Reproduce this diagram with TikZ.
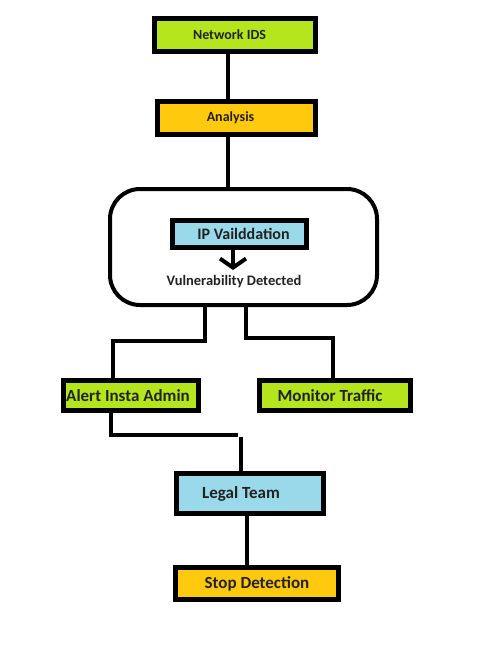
\documentclass[tikz,border=0pt]{standalone}
\usepackage{fontspec}
\setmainfont{Carlito}
\usetikzlibrary{arrows.meta}
\definecolor{boxgreen}{HTML}{B5E61D}
\definecolor{boxorange}{HTML}{FFC90E}
\definecolor{boxblue}{HTML}{99D9EA}
\definecolor{txt}{HTML}{222222}
\newcommand{\shiftby}[1]{\hspace*{#1}}
\tikzset{
  box/.style={draw=black, line width=5pt, inner sep=0pt, text=txt, font=\bfseries},
  conn/.style={draw=black, line width=4pt},
}
\begin{document}
\begin{tikzpicture}[x=1pt,y=-1pt]
\useasboundingbox[fill=white] (0,0) rectangle (496,645);
\node[box, fill=boxgreen, minimum width=161pt, minimum height=33pt, font=\bfseries\fontsize{14}{16}\selectfont] (nids) at (234.5,35) {\shiftby{-10pt}Network IDS};
\node[box, fill=boxorange, minimum width=158pt, minimum height=33pt, font=\bfseries\fontsize{14}{16}\selectfont] (ana) at (236.5,118) {\shiftby{-12pt}Analysis};
\node[draw=black, line width=4pt, rounded corners=30pt, minimum width=267pt, minimum height=116pt, inner sep=0pt] (rbox) at (243.5,247) {};
\node[box, fill=boxblue, minimum width=134pt, minimum height=27pt, font=\bfseries\fontsize{16}{18}\selectfont] (ip) at (239.5,234) {\shiftby{8pt}IP Vailddation};
\node[text=txt, font=\bfseries\fontsize{14.5}{16}\selectfont, inner sep=0pt] (vd) at (234,282) {Vulnerability Detected};
\coordinate (arr) at (233,270);
\node[box, fill=boxgreen, minimum width=135pt, minimum height=30pt, font=\bfseries\fontsize{17}{19}\selectfont] (alert) at (131,395.5) {\shiftby{-6pt}Alert Insta Admin};
\node[box, fill=boxgreen, minimum width=151pt, minimum height=30pt, font=\bfseries\fontsize{17}{19}\selectfont] (mon) at (335,395.5) {\shiftby{-10pt}Monitor Traffic};
\node[box, fill=boxblue, minimum width=147pt, minimum height=40pt, font=\bfseries\fontsize{17}{19}\selectfont] (legal) at (250,493.5) {\shiftby{-18pt}Legal Team};
\node[box, fill=boxorange, minimum width=163pt, minimum height=32pt, font=\bfseries\fontsize{17}{19}\selectfont] (stop) at (257,583.5) {Stop Detection};
\coordinate (j) at (240,435);

\draw[conn] (228,0 |- nids.south) -- (228,0 |- ana.north);
\draw[conn] (228,0 |- ana.south) -- (228,0 |- rbox.north);
\draw[conn, -{Straight Barb[length=9pt,width=26pt]}] (233,0 |- ip.south) -- (arr);
\draw[conn] (205,0 |- rbox.south) -- (205,341) -| (alert.north -| 113,0);
\draw[conn] (246,0 |- rbox.south) -- (246,338) -| (mon.north -| 333,0);
\draw[conn] (alert.south -| 111,0) |- ([xshift=-2pt]j);
\draw[conn] ([xshift=1pt,yshift=-2pt]j) -- (legal.north -| 241,0);
\draw[conn] (legal.south -| 247,0) -- (stop.north -| 247,0);
\end{tikzpicture}
\end{document}
